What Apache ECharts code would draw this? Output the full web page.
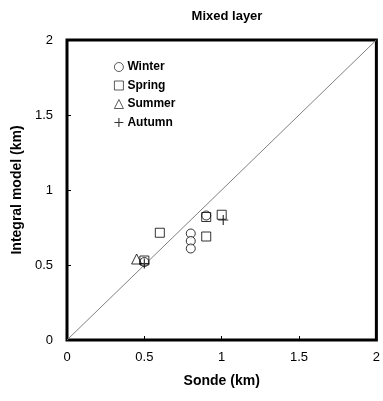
<!DOCTYPE html>
<html><head><meta charset="utf-8">
<script src="https://cdn.jsdelivr.net/npm/echarts@6/dist/echarts.min.js"></script>
<style>html,body{margin:0;padding:0;background:#fff}#c{width:383px;height:401px}</style>
</head><body><div id="c"></div>
<script>
const title = 'Mixed layer';
const xName = 'Sonde (km)';
const yName = 'Integral model (km)';
const seasons = ['Winter', 'Spring', 'Summer', 'Autumn'];
const winter = [[0.5, 0.52], [0.8, 0.71], [0.8, 0.66], [0.8, 0.61], [0.9, 0.83]];
const spring = [[0.5, 0.53], [0.6, 0.715], [0.9, 0.82], [0.9, 0.69], [1.0, 0.835]];
const summer = [[0.45, 0.54]];
const autumn = [[0.5, 0.51], [1.01, 0.80]];
const oneToOne = [[0, 0], [2, 2]];

const FONT = '"Liberation Sans", Arial, sans-serif';
const plus = 'path://M4.4,0H5.6V4.4H10V5.6H5.6V10H4.4V5.6H0V4.4H4.4Z';
const chart = echarts.init(document.getElementById('c'));
const hollow = {color: '#fff', borderColor: '#000', borderWidth: 1};
const clear = {color: 'rgba(255,255,255,0)', borderColor: '#000', borderWidth: 1};
chart.setOption({
  animation: false,
  title: {text: title, left: 222, textAlign: 'center', top: 5,
    textStyle: {fontFamily: FONT, fontSize: 13, fontWeight: 'bold', color: '#000'}},
  grid: {left: 67, right: 5, top: 40, bottom: 61, show: true, borderColor: '#000', borderWidth: 3, backgroundColor: '#fff'},
  legend: {
    data: seasons.map(s => ({name: s, itemStyle: {borderWidth: 0.8}})),
    orient: 'vertical', left: 109, top: 56, itemGap: 6.5,
    itemWidth: 9, itemHeight: 9,
    textStyle: {fontFamily: FONT, fontSize: 12, fontWeight: 'bold', color: '#000', padding: [0, 0, 0, -1]}
  },
  xAxis: {type: 'value', min: 0, max: 2, interval: 0.5,
    name: xName, nameLocation: 'middle', nameGap: 34,
    nameTextStyle: {fontFamily: FONT, fontSize: 14, fontWeight: 'bold', color: '#000'},
    axisLine: {show: false}, splitLine: {show: false},
    axisTick: {inside: true, length: 4, lineStyle: {color: '#000'}},
    axisLabel: {fontFamily: FONT, fontSize: 13, color: '#000', margin: 11, formatter: v => String(v)}},
  yAxis: {type: 'value', min: 0, max: 2, interval: 0.5,
    name: yName, nameLocation: 'middle', nameGap: 37,
    nameTextStyle: {fontFamily: FONT, fontSize: 14, fontWeight: 'bold', color: '#000'},
    axisLine: {show: false}, splitLine: {show: false},
    axisTick: {inside: true, length: 4, lineStyle: {color: '#000'}},
    axisLabel: {fontFamily: FONT, fontSize: 13, color: '#000', margin: 14, formatter: v => String(v)}},
  series: [
    {type: 'line', data: oneToOne, symbol: 'none', lineStyle: {color: '#808080', width: 1}, silent: true, z: 1},
    {name: 'Winter', type: 'scatter', data: winter, symbol: 'circle', symbolSize: 9, itemStyle: hollow, z: 3},
    {name: 'Spring', type: 'scatter', data: spring, symbol: 'rect', symbolSize: 9, itemStyle: clear, z: 4},
    {name: 'Summer', type: 'scatter', data: summer, symbol: 'triangle', symbolSize: 10, itemStyle: clear, z: 4},
    {name: 'Autumn', type: 'scatter', data: autumn, symbol: plus, symbolSize: 10, itemStyle: {color: '#000'}, z: 5}
  ]
});
</script></body></html>
